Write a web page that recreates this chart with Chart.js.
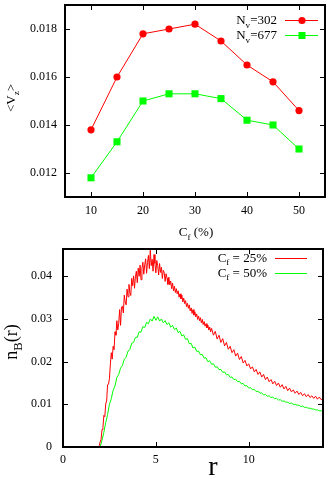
<!DOCTYPE html>
<html><head><meta charset="utf-8">
<script src="https://cdn.jsdelivr.net/npm/chart.js@4/dist/chart.umd.min.js"></script>
<style>
html,body{margin:0;padding:0;background:#fff;width:332px;height:479px;overflow:hidden;}
canvas{position:absolute;left:0;}
#c1{top:0;}
#c2{top:240px;}
</style></head>
<body>
<canvas id="c1" width="332" height="240"></canvas>
<canvas id="c2" width="332" height="239"></canvas>
<script>
// ---- top panel data ----
const cfPercent = [10, 15, 20, 25, 30, 35, 40, 45, 50];
const vzNv302 = [0.0138, 0.0160, 0.0178, 0.0180, 0.0182, 0.0175, 0.0165, 0.0158, 0.0146];
const vzNv677 = [0.0118, 0.0133, 0.0150, 0.0153, 0.0153, 0.0151, 0.0142, 0.0140, 0.0130];
const cfTicks = [10, 20, 30, 40, 50];
const vzTicks = [0.012, 0.014, 0.016, 0.018];

// ---- bottom panel data ----
// r sample points of the Cf = 25% curve (denser where it is noisiest)
const rCf25 = [1.90,1.95,
 2.00,2.05,2.10,2.15,2.20,2.25,2.30,2.35,2.40,2.45,2.50,2.55,2.60,2.65,2.70,2.75,2.80,2.85,2.90,2.95,
 3.00,3.05,3.10,3.15,3.20,3.25,3.30,3.35,3.40,3.45,3.50,3.55,3.60,3.65,3.70,3.75,3.80,3.85,3.90,3.95,
 4.00,4.05,4.10,4.15,4.20,4.25,4.30,4.35,4.40,4.45,4.50,4.55,4.60,4.65,4.70,4.75,4.80,4.85,4.90,4.95,
 5.00,5.05,5.10,5.15,5.20,5.25,5.30,5.35,5.40,5.45,5.50,5.55,5.60,5.65,5.70,5.75,5.80,5.85,5.90,5.95,
 6.00,6.05,6.10,6.15,6.20,6.25,6.30,6.35,6.40,6.45,6.50,6.55,6.60,6.65,6.70,6.75,6.80,6.85,6.90,6.95,
 7.00,7.05,7.10,7.15,7.20,7.25,7.30,7.35,7.40,7.45,7.50,7.55,7.60,7.65,7.70,7.75,7.80,7.85,7.90,7.95,
 8.0,8.1,8.2,8.3,8.4,8.5,8.6,8.7,8.8,8.9,
 9.0,9.1,9.2,9.3,9.4,9.5,9.6,9.7,9.8,9.9,
 10.0,10.1,10.2,10.3,10.4,10.5,10.6,10.7,10.8,10.9,
 11.0,11.1,11.2,11.3,11.4,11.5,11.6,11.7,11.8,11.9,
 12.0,12.1,12.2,12.3,12.4,12.5,12.6,12.7,12.8,12.9,
 13.0,13.1,13.2,13.3,13.4,13.5,13.6,13.7,13.8,13.9,
 14.0];
const nBCf25 = [0,0.0003,
 0.0012,0.0018,0.0041,0.0046,0.0074,0.0071,0.0101,0.0108,0.0146,0.0147,0.0160,0.0194,0.0221,0.0206,0.0236,0.0228,0.0270,0.0262,0.0296,0.0274,
 0.0290,0.0322,0.0285,0.0328,0.0330,0.0314,0.0356,0.0340,0.0333,0.0370,0.0352,0.0381,0.0362,0.0355,0.0395,0.0378,0.0401,0.0372,0.0399,0.0412,
 0.0385,0.0419,0.0400,0.0426,0.0392,0.0418,0.0433,0.0405,0.0427,0.0441,0.0407,0.0432,0.0449,0.0418,0.0461,0.0425,0.0440,0.0412,0.0451,0.0430,
 0.0408,0.0437,0.0425,0.0403,0.0430,0.0409,0.0421,0.0395,0.0414,0.0408,0.0388,0.0406,0.0396,0.0381,0.0398,0.0380,0.0389,0.0371,0.0384,0.0366,
 0.0377,0.0362,0.0371,0.0359,0.0366,0.0351,0.0359,0.0347,0.0356,0.0340,0.0349,0.0336,0.0343,0.0329,0.0337,0.0325,0.0333,0.0319,0.0326,0.0313,
 0.0322,0.0309,0.0317,0.0305,0.0312,0.0299,0.0307,0.0296,0.0303,0.0291,0.0299,0.0287,0.0294,0.0283,0.0289,0.0279,0.0286,0.0274,0.0281,0.0270,
 0.0278,0.0262,0.0271,0.0253,0.0262,0.0245,0.0254,0.0237,0.0245,0.0229,
 0.0236,0.0221,0.0228,0.0213,0.0220,0.0205,0.0212,0.0197,0.0203,0.0190,
 0.0195,0.0183,0.0188,0.0176,0.0182,0.0170,0.0176,0.0164,0.0170,0.0158,
 0.0164,0.0153,0.0158,0.0148,0.0154,0.0144,0.0150,0.0140,0.0146,0.0136,
 0.0142,0.0132,0.0138,0.0129,0.0134,0.0126,0.0131,0.0123,0.0128,0.0120,
 0.0125,0.0118,0.0123,0.0116,0.0120,0.0114,0.0119,0.0112,0.0117,0.0111,
 0.0114];
// r sample points of the Cf = 50% curve
const rCf50 = [
 2.0,2.1,2.2,2.3,2.4,2.5,2.6,2.7,2.8,2.9,
 3.0,3.1,3.2,3.3,3.4,3.5,3.6,3.7,3.8,3.9,
 4.0,4.1,4.2,4.3,4.4,4.5,4.6,4.7,4.8,4.9,
 5.0,5.1,5.2,5.3,5.4,5.5,5.6,5.7,5.8,5.9,
 6.0,6.1,6.2,6.3,6.4,6.5,6.6,6.7,6.8,6.9,
 7.0,7.1,7.2,7.3,7.4,7.5,7.6,7.7,7.8,7.9,
 8.0,8.1,8.2,8.3,8.4,8.5,8.6,8.7,8.8,8.9,
 9.0,9.1,9.2,9.3,9.4,9.5,9.6,9.7,9.8,9.9,
 10.0,10.1,10.2,10.3,10.4,10.5,10.6,10.7,10.8,10.9,
 11.0,11.1,11.2,11.3,11.4,11.5,11.6,11.7,11.8,11.9,
 12.0,12.1,12.2,12.3,12.4,12.5,12.6,12.7,12.8,12.9,
 13.0,13.1,13.2,13.3,13.4,13.5,13.6,13.7,13.8,13.9,
 14.0];
const nBCf50 = [
 0,0.0016,0.0034,0.0057,0.0076,0.0100,0.0113,0.0133,0.0143,0.0163,
 0.0170,0.0185,0.0191,0.0206,0.0210,0.0225,0.0228,0.0243,0.0245,0.0257,
 0.0257,0.0270,0.0269,0.0282,0.0280,0.0292,0.0289,0.0300,0.0295,0.0306,
 0.0297,0.0305,0.0295,0.0300,0.0291,0.0296,0.0287,0.0291,0.0281,0.0285,
 0.0275,0.0279,0.0268,0.0271,0.0260,0.0263,0.0252,0.0254,0.0242,0.0243,
 0.0232,0.0234,0.0224,0.0225,0.0216,0.0217,0.0208,0.0209,0.0200,0.0202,
 0.0194,0.0195,0.0187,0.0188,0.0181,0.0182,0.0175,0.0176,0.0169,0.0170,
 0.0163,0.0164,0.0158,0.0159,0.0153,0.0154,0.0148,0.0149,0.0143,0.0144,
 0.0138,0.0139,0.0134,0.0135,0.0130,0.0131,0.0126,0.0127,0.0122,0.0123,
 0.0119,0.0120,0.0116,0.0117,0.0113,0.0114,0.0110,0.0111,0.0107,0.0108,
 0.0105,0.0105,0.0102,0.0103,0.0100,0.0100,0.0098,0.0098,0.0095,0.0096,
 0.0093,0.0093,0.0091,0.0091,0.0089,0.0089,0.0087,0.0087,0.0085,0.0085,
 0.0083];
const rTicks = [0, 5, 10];
const nBTicks = [0, 0.01, 0.02, 0.03, 0.04];

const FAM = '"Liberation Serif", "Times New Roman", serif';
const RED = '#ff0000', GREEN = '#00ff00';

function drawRich(ctx, parts, x, y, size, align) {
  const widths = parts.map(p => { ctx.font = (p.sub ? size * 0.7 : size) + 'px ' + FAM; return ctx.measureText(p.t).width; });
  const total = widths.reduce((a, b) => a + b, 0);
  let cx = align === 'center' ? x - total / 2 : align === 'right' ? x - total : x;
  ctx.textAlign = 'left'; ctx.textBaseline = 'alphabetic'; ctx.fillStyle = '#000';
  parts.forEach((p, i) => {
    ctx.font = (p.sub ? size * 0.7 : size) + 'px ' + FAM;
    ctx.fillText(p.t, cx, y + (p.sub ? size * 0.3 : 0));
    cx += widths[i];
  });
}

function drawFrame(chart, tickLen) {
  const { ctx, chartArea: a, scales: { x, y } } = chart;
  ctx.save();
  ctx.strokeStyle = '#000'; ctx.lineWidth = 1;
  ctx.beginPath();
  x.ticks.forEach(t => {
    const px = Math.round(x.getPixelForValue(t.value)) + 0.5;
    ctx.moveTo(px, a.bottom); ctx.lineTo(px, a.bottom - tickLen);
    ctx.moveTo(px, a.top); ctx.lineTo(px, a.top + tickLen);
  });
  y.ticks.forEach(t => {
    const py = Math.round(y.getPixelForValue(t.value)) + 0.5;
    ctx.moveTo(a.left, py); ctx.lineTo(a.left + tickLen, py);
    ctx.moveTo(a.right, py); ctx.lineTo(a.right - tickLen, py);
  });
  ctx.stroke();
  ctx.lineWidth = 2;
  ctx.strokeRect(a.left, a.top, a.right - a.left, a.bottom - a.top);
  ctx.restore();
}

function fixedTicks(arr) { return s => { s.ticks = arr.map(v => ({ value: v })); }; }
function fitTo(prop, val) {
  return s => { s[prop] = val; s.paddingTop = 0; s.paddingBottom = 0; s.paddingLeft = 0; s.paddingRight = 0; };
}

const topPlugin = {
  id: 'topDecor',
  afterDraw(chart) {
    const ctx = chart.ctx;
    drawFrame(chart, 5);
    ctx.save();
    ctx.save(); ctx.translate(15, 98); ctx.rotate(-Math.PI / 2);
    drawRich(ctx, [{ t: '<V' }, { t: 'z', sub: true }, { t: '>' }], 0, 0, 13, 'center');
    ctx.restore();
    drawRich(ctx, [{ t: 'C' }, { t: 'f', sub: true }, { t: ' (%)' }], 196, 236, 13, 'center');
    const rows = [
      { label: [{ t: 'N' }, { t: 'v', sub: true }, { t: '=302' }], color: RED, shape: 'circle', yc: 20 },
      { label: [{ t: 'N' }, { t: 'v', sub: true }, { t: '=677' }], color: GREEN, shape: 'rect', yc: 35 }
    ];
    rows.forEach(r => {
      drawRich(ctx, r.label, 277, r.yc + 4, 13, 'right');
      ctx.strokeStyle = r.color; ctx.lineWidth = 1;
      ctx.beginPath(); ctx.moveTo(285, r.yc + 0.5); ctx.lineTo(318, r.yc + 0.5); ctx.stroke();
      ctx.fillStyle = r.color;
      if (r.shape === 'circle') { ctx.beginPath(); ctx.arc(302, r.yc + 0.5, 3.6, 0, Math.PI * 2); ctx.fill(); }
      else { ctx.fillRect(298.5, r.yc - 3, 7, 7); }
    });
    ctx.restore();
  }
};

const botPlugin = {
  id: 'botDecor',
  afterDraw(chart) {
    const ctx = chart.ctx;
    drawFrame(chart, 5);
    ctx.save();
    ctx.save(); ctx.translate(17, 102); ctx.rotate(-Math.PI / 2);
    drawRich(ctx, [{ t: 'n' }, { t: 'B', sub: true }, { t: '(r)' }], 0, 0, 18, 'center');
    ctx.restore();
    drawRich(ctx, [{ t: 'r' }], 213, 235, 28, 'center');
    const rows = [
      { label: [{ t: 'C' }, { t: 'f', sub: true }, { t: ' = 25%' }], color: RED, yc: 18 },
      { label: [{ t: 'C' }, { t: 'f', sub: true }, { t: ' = 50%' }], color: GREEN, yc: 33 }
    ];
    rows.forEach(r => {
      drawRich(ctx, r.label, 267, r.yc + 3.5, 13, 'right');
      ctx.strokeStyle = r.color; ctx.lineWidth = 1;
      ctx.beginPath(); ctx.moveTo(275, r.yc + 0.5); ctx.lineTo(307, r.yc + 0.5); ctx.stroke();
    });
    ctx.restore();
  }
};

const tickFont = { family: FAM, size: 12 };

new Chart(document.getElementById('c1'), {
  type: 'line',
  data: {
    datasets: [
      { label: 'Nv=302', data: cfPercent.map((x, i) => ({ x, y: vzNv302[i] })), borderColor: RED, backgroundColor: RED,
        borderWidth: 1, pointStyle: 'circle', pointRadius: 3.6, pointBorderWidth: 0, tension: 0 },
      { label: 'Nv=677', data: cfPercent.map((x, i) => ({ x, y: vzNv677[i] })), borderColor: GREEN, backgroundColor: GREEN,
        borderWidth: 1, pointStyle: 'rect', pointRadius: 5, pointBorderWidth: 0, tension: 0 }
    ]
  },
  options: {
    responsive: false, animation: false, events: [],
    layout: { padding: { top: 5, right: 7, left: 0, bottom: 0 } },
    plugins: { legend: { display: false }, tooltip: { enabled: false } },
    scales: {
      x: { type: 'linear', min: 5, max: 55, afterBuildTicks: fixedTicks(cfTicks), afterFit: fitTo('height', 43),
        grid: { display: false, drawTicks: false }, border: { display: false },
        ticks: { font: tickFont, color: '#000', padding: 7, autoSkip: false, maxRotation: 0, callback: v => String(v) } },
      y: { type: 'linear', min: 0.011, max: 0.019, afterBuildTicks: fixedTicks(vzTicks), afterFit: fitTo('width', 65),
        grid: { display: false, drawTicks: false }, border: { display: false },
        ticks: { font: tickFont, color: '#000', padding: 8, autoSkip: false, callback: v => v.toFixed(3) } }
    }
  },
  plugins: [topPlugin]
});

new Chart(document.getElementById('c2'), {
  type: 'line',
  data: {
    datasets: [
      { label: 'Cf = 25%', data: rCf25.map((x, i) => ({ x, y: nBCf25[i] })), borderColor: RED, borderWidth: 1, pointRadius: 0, tension: 0 },
      { label: 'Cf = 50%', data: rCf50.map((x, i) => ({ x, y: nBCf50[i] })), borderColor: GREEN, borderWidth: 1, pointRadius: 0, tension: 0 }
    ]
  },
  options: {
    responsive: false, animation: false, events: [],
    layout: { padding: { top: 9, right: 9, left: 0, bottom: 0 } },
    plugins: { legend: { display: false }, tooltip: { enabled: false } },
    scales: {
      x: { type: 'linear', min: 0, max: 14, afterBuildTicks: fixedTicks(rTicks), afterFit: fitTo('height', 32),
        grid: { display: false, drawTicks: false }, border: { display: false },
        ticks: { font: tickFont, color: '#000', padding: 6, autoSkip: false, maxRotation: 0, callback: v => String(v) } },
      y: { type: 'linear', min: 0, max: 0.0464, afterBuildTicks: fixedTicks(nBTicks), afterFit: fitTo('width', 63),
        grid: { display: false, drawTicks: false }, border: { display: false },
        ticks: { font: tickFont, color: '#000', padding: 11, autoSkip: false, callback: v => (v === 0 ? '0' : v.toFixed(2)) } }
    }
  },
  plugins: [botPlugin]
});
</script>
</body></html>
